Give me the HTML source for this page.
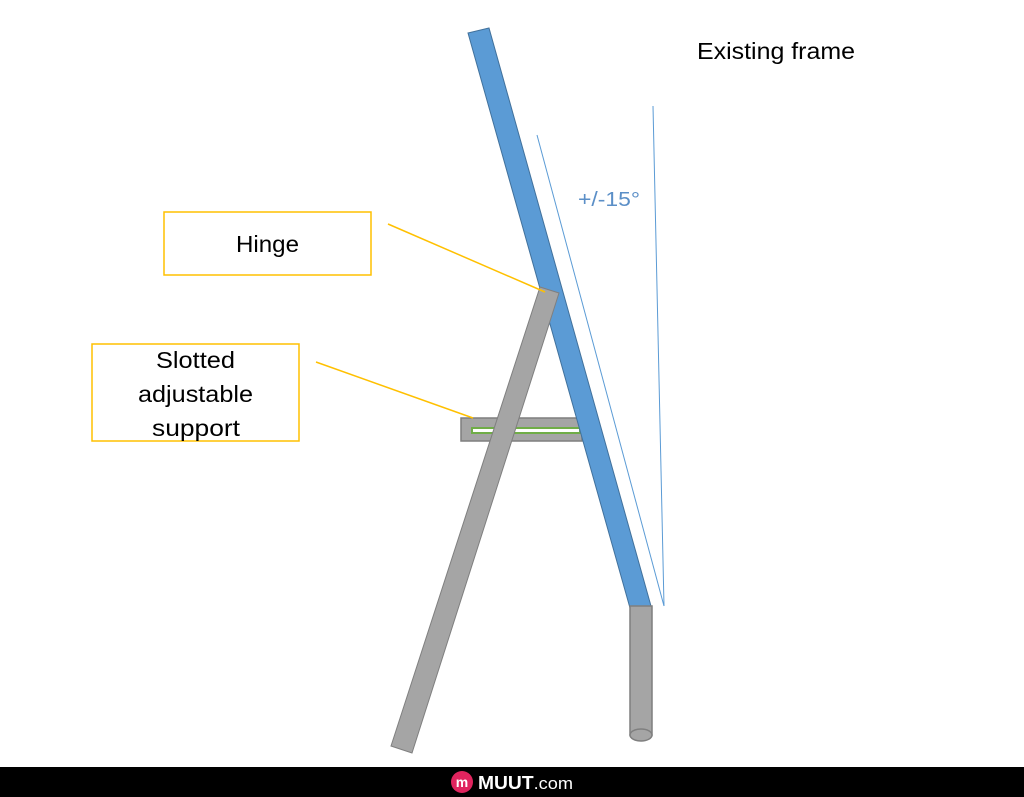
<!DOCTYPE html>
<html>
<head>
<meta charset="utf-8">
<style>
  html,body{margin:0;padding:0;background:#fff;}
  svg{display:block;}
  text{font-family:"Liberation Sans",sans-serif;}
</style>
</head>
<body>
<svg width="1024" height="797" viewBox="0 0 1024 797">
  <rect x="0" y="0" width="1024" height="797" fill="#fff"/>

  <line x1="537" y1="135" x2="664" y2="606" stroke="#5b9bd5" stroke-width="1"/>
  <line x1="653" y1="106" x2="664" y2="606" stroke="#5b9bd5" stroke-width="1"/>

  <rect x="461" y="418" width="121" height="23" fill="#a5a5a5" stroke="#7f7f7f" stroke-width="1.5"/>
  <rect x="472" y="428" width="108" height="5" fill="#fff" stroke="#70ad47" stroke-width="2"/>

  <polygon points="468,33 489,28 651,606 630,608" fill="#5b9bd5" stroke="#41719c" stroke-width="1"/>

  <polygon points="540,287 559,293 412,753 391,746" fill="#a5a5a5" stroke="#7f7f7f" stroke-width="1"/>

  <rect x="630" y="606" width="22" height="129" fill="#a5a5a5" stroke="#7f7f7f" stroke-width="1.5"/>
  <ellipse cx="641" cy="735" rx="11" ry="6" fill="#a5a5a5" stroke="#7f7f7f" stroke-width="1.5"/>

  <line x1="388" y1="224" x2="545" y2="292" stroke="#ffc000" stroke-width="1.5"/>
  <line x1="316" y1="362" x2="473" y2="418" stroke="#ffc000" stroke-width="1.5"/>
  <rect x="164" y="212" width="207" height="63" fill="#fff" stroke="#ffc000" stroke-width="1.5"/>
  <text x="236" y="252" font-size="23" textLength="63" lengthAdjust="spacingAndGlyphs" fill="#000">Hinge</text>
  <rect x="92" y="344" width="207" height="97" fill="#fff" stroke="#ffc000" stroke-width="1.5"/>
  <text x="156" y="368" font-size="23" textLength="79" lengthAdjust="spacingAndGlyphs" fill="#000">Slotted</text>
  <text x="138" y="402" font-size="23" textLength="115" lengthAdjust="spacingAndGlyphs" fill="#000">adjustable</text>
  <text x="152" y="436" font-size="23" textLength="88" lengthAdjust="spacingAndGlyphs" fill="#000">support</text>

  <text x="578" y="206" font-size="20" textLength="62" lengthAdjust="spacingAndGlyphs" fill="#5b8fc7">+/-15°</text>
  <text x="697" y="59" font-size="23" textLength="158" lengthAdjust="spacingAndGlyphs" fill="#000">Existing frame</text>

  <rect x="0" y="767" width="1024" height="30" fill="#000"/>
  <circle cx="462" cy="782" r="11" fill="#e0245e"/>
  <text x="462" y="787" font-size="14" font-weight="bold" text-anchor="middle" fill="#fff">m</text>
  <text x="478" y="789" font-size="18" font-weight="bold" fill="#fff" textLength="95" lengthAdjust="spacingAndGlyphs">MUUT<tspan font-weight="normal" font-size="17">.com</tspan></text>
</svg>
</body>
</html>
